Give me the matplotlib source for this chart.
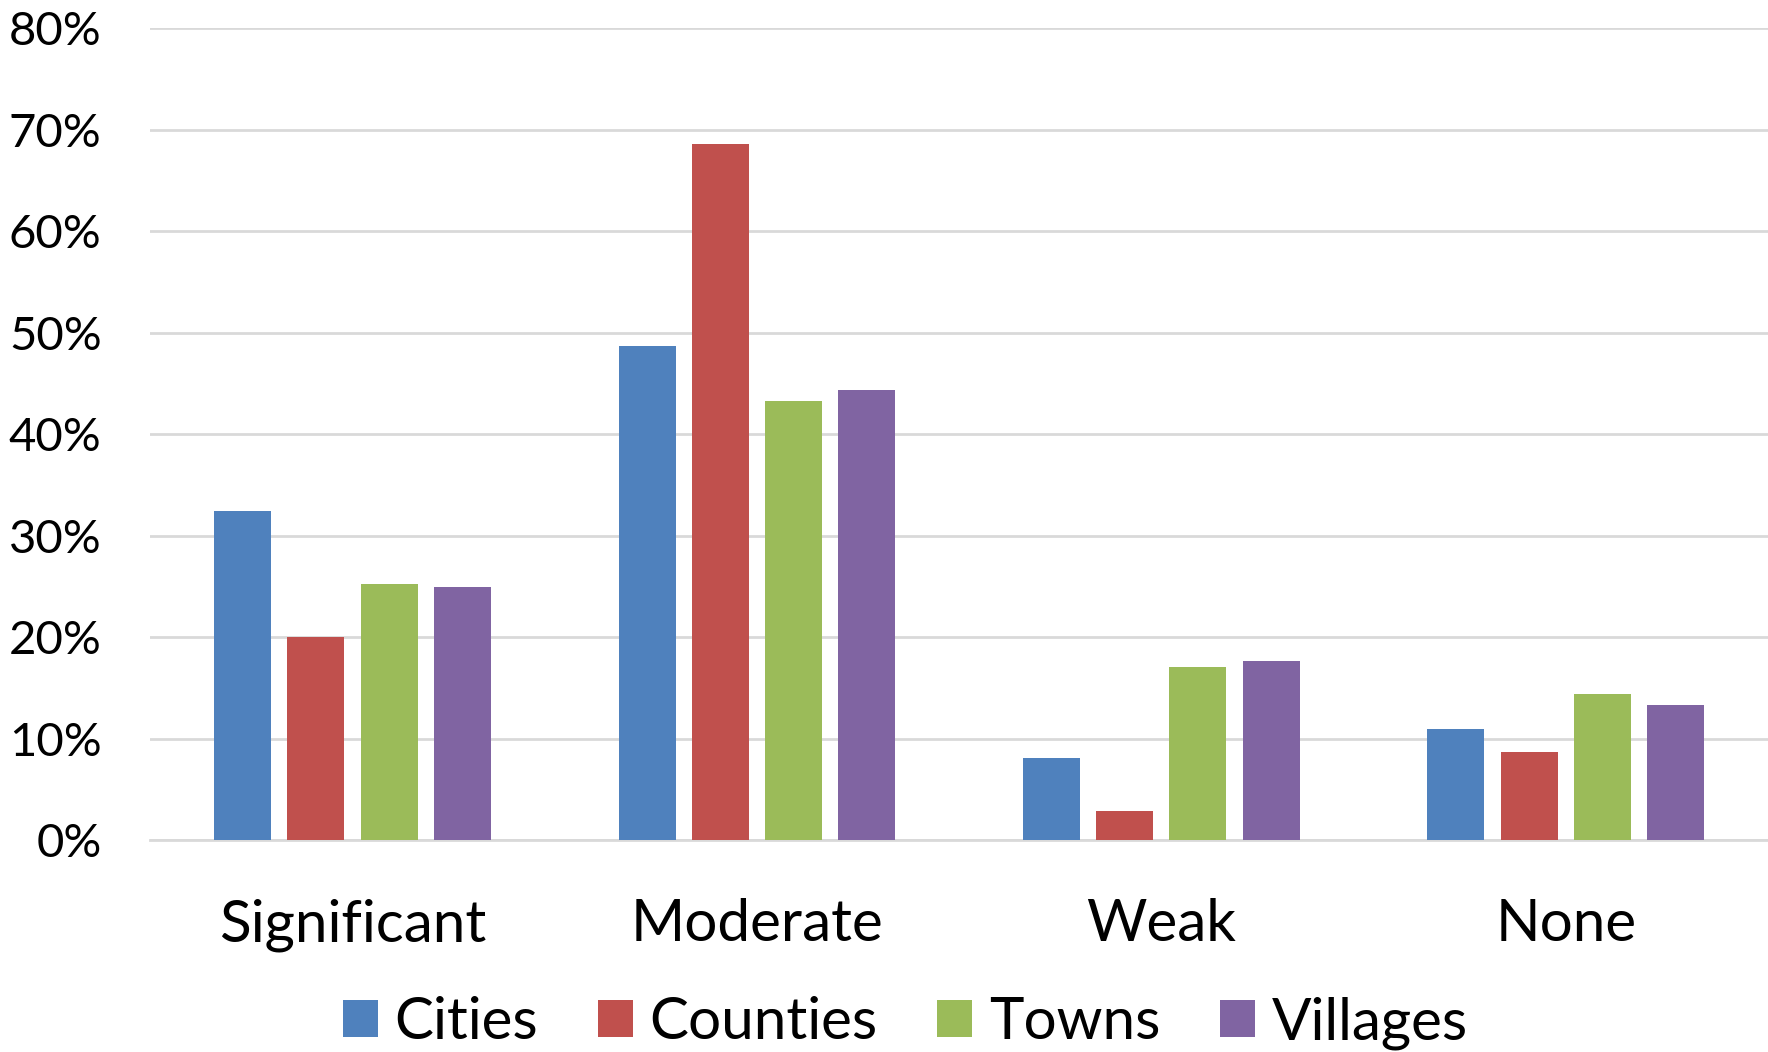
import matplotlib.pyplot as plt
import numpy as np
from matplotlib.ticker import FuncFormatter

plt.rcParams['font.family'] = ['Lato', 'DejaVu Sans']

categories = ['Significant', 'Moderate', 'Weak', 'None']
series = ['Cities', 'Counties', 'Towns', 'Villages']
cities = [32.4, 48.7, 8.1, 10.9]
counties = [20.0, 68.6, 2.9, 8.7]
towns = [25.2, 43.3, 17.1, 14.4]
villages = [24.9, 44.4, 17.6, 13.3]
colors = ['#4F81BD', '#C0504D', '#9BBB59', '#8064A2']

fig = plt.figure(figsize=(17.68, 10.52), dpi=100)
ax = fig.add_axes([0.085, 0.2015, 0.915, 0.7715])

x = np.arange(len(categories))
width = 0.141
step = 0.181
for i, (name, vals) in enumerate(zip(series, [cities, counties, towns, villages])):
    ax.bar(x + (i - 1.5) * step, vals, width, color=colors[i], label=name, zorder=3)

ax.set_xlim(-0.5, len(categories) - 0.5)
ax.set_ylim(0, 80)
ax.set_yticks(range(0, 81, 10))
ax.yaxis.set_major_formatter(FuncFormatter(lambda v, p: '%d%%' % v))
ax.set_xticks(x)
ax.set_xticklabels(categories, fontsize=42)
ax.tick_params(axis='y', labelsize=34, length=0, pad=35)
ax.tick_params(axis='x', length=0, pad=42)
ax.grid(axis='y', color='#D9D9D9', linewidth=2, zorder=0)
for s in ['top', 'right', 'left']:
    ax.spines[s].set_visible(False)
ax.spines['bottom'].set_color('#D9D9D9')
ax.spines['bottom'].set_linewidth(2)

fig.legend(loc='lower center', bbox_to_anchor=(0.512, -0.048), ncol=4, frameon=False,
           fontsize=42, handlelength=0.6, handleheight=0.6, handletextpad=0.28,
           columnspacing=1.03)

fig.savefig('out.png', dpi=100)
